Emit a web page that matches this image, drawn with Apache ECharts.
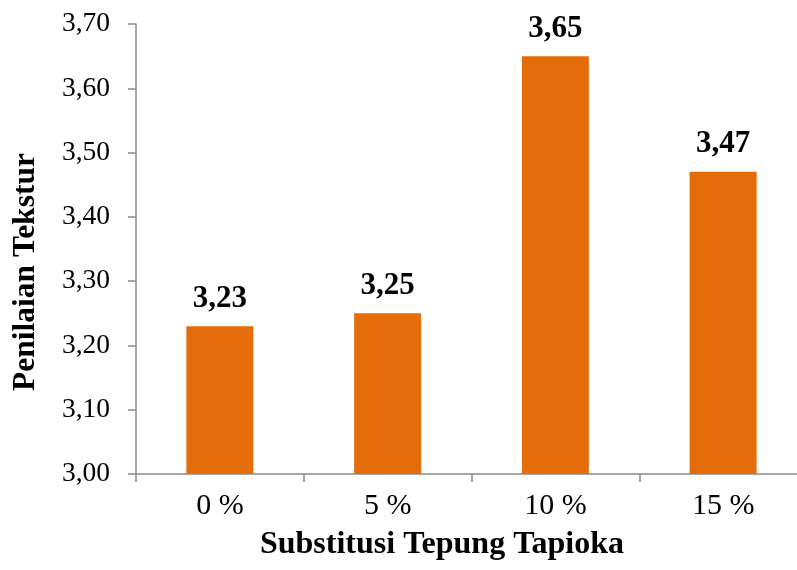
<!DOCTYPE html>
<html>
<head>
<meta charset="utf-8">
<title>Penilaian Tekstur</title>
<script src="https://cdn.jsdelivr.net/npm/echarts@6/dist/echarts.min.js"></script>
<style>
  html, body { margin: 0; padding: 0; background: #ffffff; overflow: hidden; }
  /* the plot area runs slightly past the right edge of the window */
  #chart { width: 830px; height: 570px; }
</style>
</head>
<body>
<div id="chart"></div>
<script>
// Texture scores per tapioca flour substitution level
const categories = ['0 %', '5 %', '10 %', '15 %'];
const scores = [3.23, 3.25, 3.65, 3.47];
const yTicks = [3.00, 3.10, 3.20, 3.30, 3.40, 3.50, 3.60, 3.70];

const serif = "'Liberation Serif', 'Times New Roman', serif";
const axisGrey = '#8c8c8c';
const comma = v => Number(v).toFixed(2).replace('.', ',');

const chart = echarts.init(document.getElementById('chart'), null, { renderer: 'canvas' });

chart.setOption({
  animation: false,
  backgroundColor: '#ffffff',
  grid: { left: 136, top: 24, width: 671, height: 450, containLabel: false },
  xAxis: {
    type: 'category',
    data: categories,
    boundaryGap: true,
    axisLine: { lineStyle: { color: axisGrey, width: 1.5 } },
    axisTick: { show: true, length: 8, alignWithLabel: false, lineStyle: { color: axisGrey, width: 1.5 } },
    axisLabel: { color: '#000', fontFamily: serif, fontSize: 30, margin: 17 },
    splitLine: { show: false }
  },
  yAxis: {
    type: 'value',
    min: yTicks[0],
    max: yTicks[yTicks.length - 1],
    interval: 0.1,
    axisLine: { show: true, lineStyle: { color: axisGrey, width: 1.5 } },
    axisTick: { show: true, length: 8, lineStyle: { color: axisGrey, width: 1.5 } },
    axisLabel: { color: '#000', fontFamily: serif, fontSize: 27.5, margin: 26, formatter: comma },
    splitLine: { show: false }
  },
  series: [{
    type: 'bar',
    data: scores,
    barWidth: 67,
    itemStyle: { color: '#e46c0a' },
    label: {
      show: true,
      position: 'top',
      distance: 12,
      color: '#000',
      fontFamily: serif,
      fontWeight: 'bold',
      fontSize: 31,
      formatter: p => comma(p.value)
    }
  }],
  graphic: [
    {
      type: 'text',
      x: 442, y: 545,
      style: {
        text: 'Substitusi Tepung Tapioka',
        font: 'bold 32px ' + serif,
        fill: '#000',
        textAlign: 'center',
        textVerticalAlign: 'middle'
      }
    },
    {
      type: 'text',
      x: 26, y: 272,
      rotation: Math.PI / 2,
      style: {
        text: 'Penilaian Tekstur',
        font: 'bold 31.5px ' + serif,
        fill: '#000',
        textAlign: 'center',
        textVerticalAlign: 'middle'
      }
    }
  ]
});
</script>
</body>
</html>
